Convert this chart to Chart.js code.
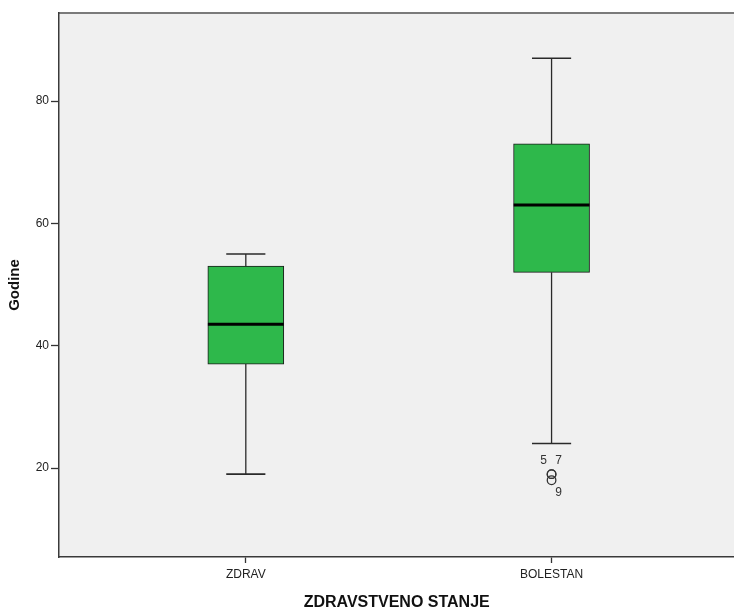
<!DOCTYPE html>
<html>
<head>
<meta charset="utf-8">
<script src="https://cdn.jsdelivr.net/npm/chart.js@4"></script>
<style>
html,body{margin:0;padding:0;background:#fff;overflow:hidden;}
#wrap{width:740px;height:612px;}
</style>
</head>
<body>
<div id="wrap"><canvas id="c" width="740" height="612"></canvas></div>
<script>
// ---- data ----
const categories = ['ZDRAV', 'BOLESTAN'];
const whiskerMin = [19, 24];
const q1 = [37, 52];
const median = [43.5, 63];
const q3 = [53, 73];
const whiskerMax = [55, 87];
const outlierValues = [[], [19, 19, 18]];
const outlierIds = [[], ['5', '7', '9']];
const yTicks = [20, 40, 60, 80];

// ---- styles ----
const boxHalf = 0.124;   // in category units
const capHalf = 0.064;
const green = '#2eb84b';
const lineCol = '#2a2a2a';

const datasets = [];
datasets.push({
  type: 'bar',
  data: categories.map((c, i) => ({x: i + 1, y: [q1[i], q3[i]]})),
  backgroundColor: green,
  borderColor: '#1a1a1a',
  borderWidth: 1,
  borderSkipped: false,
  barThickness: 76,
  grouped: false,
  order: 10
});
function seg(points, width, color) {
  datasets.push({
    type: 'scatter', showLine: true, data: points,
    borderColor: color, borderWidth: width, pointRadius: 0,
    pointHoverRadius: 0, fill: false, order: 1
  });
}
categories.forEach((c, i) => {
  const x = i + 1;
  seg([{x, y: q3[i]}, {x, y: whiskerMax[i]}], 1.3, lineCol);
  seg([{x, y: q1[i]}, {x, y: whiskerMin[i]}], 1.3, lineCol);
  seg([{x: x - capHalf, y: whiskerMax[i]}, {x: x + capHalf, y: whiskerMax[i]}], 1.6, lineCol);
  seg([{x: x - capHalf, y: whiskerMin[i]}, {x: x + capHalf, y: whiskerMin[i]}], 1.6, lineCol);
  seg([{x: x - boxHalf, y: median[i]}, {x: x + boxHalf, y: median[i]}], 3, '#000');
});
const outPts = [];
categories.forEach((c, i) => outlierValues[i].forEach(v => outPts.push({x: i + 1, y: v})));
datasets.push({
  type: 'scatter', data: outPts, pointStyle: 'circle', pointRadius: 4.3,
  pointBorderWidth: 1.3, pointBorderColor: '#333', pointBackgroundColor: 'rgba(0,0,0,0)',
  order: 0
});

const bgPlugin = {
  id: 'bg',
  beforeDraw(chart) {
    const {ctx, chartArea: a} = chart;
    ctx.save();
    ctx.fillStyle = '#f0f0f0';
    ctx.fillRect(a.left, a.top, a.right - a.left, a.bottom - a.top);
    ctx.strokeStyle = '#7a7a7a';
    ctx.lineWidth = 2;
    ctx.beginPath();
    ctx.moveTo(a.left, a.top);
    ctx.lineTo(a.right, a.top);
    ctx.stroke();
    ctx.restore();
  },
  afterDatasetsDraw(chart) {
    const {ctx} = chart;
    const xs = chart.scales.x, ys = chart.scales.y;
    ctx.save();
    ctx.font = '12px "Liberation Sans", Arial, sans-serif';
    ctx.fillStyle = '#333';
    ctx.textAlign = 'center';
    ctx.textBaseline = 'middle';
    categories.forEach((c, i) => {
      const vals = outlierValues[i], ids = outlierIds[i];
      if (!vals.length) return;
      const px = xs.getPixelForValue(i + 1);
      // ids 5 and 7 share the upper value, id 9 is the lower one
      const pyHi = ys.getPixelForValue(vals[0]);
      const pyLo = ys.getPixelForValue(vals[2]);
      ctx.fillText(ids[0], px - 8, pyHi - 13);
      ctx.fillText(ids[1], px + 7, pyHi - 13);
      ctx.fillText(ids[2], px + 7, pyLo + 12);
    });
    ctx.restore();
  }
};

const tickFont = {family: '"Liberation Sans", Arial, sans-serif', size: 12};
new Chart(document.getElementById('c'), {
  type: 'bar',
  data: {datasets},
  options: {
    responsive: false,
    animation: false,
    events: [],
    layout: {padding: {top: 13, right: 1, left: 0, bottom: 0}},
    plugins: {legend: {display: false}, tooltip: {enabled: false}},
    scales: {
      x: {
        type: 'linear', min: 0.389, max: 2.598, offset: false,
        afterBuildTicks: s => { s.ticks = categories.map((c, i) => ({value: i + 1})); },
        afterFit: s => { s.height = 55; },
        ticks: {callback: v => categories[v - 1], font: tickFont, color: '#222', padding: 4, maxRotation: 0, autoSkip: false},
        grid: {drawOnChartArea: false, offset: false, tickLength: 6, color: '#333', tickWidth: 1.3},
        border: {display: true, color: '#3a3a3a', width: 1.5},
        title: {display: true, text: 'ZDRAVSTVENO STANJE', color: '#111',
          font: {family: '"Liberation Sans", Arial, sans-serif', size: 16, weight: 'bold'},
          padding: {top: 0, bottom: 0}}
      },
      y: {
        type: 'linear', min: 5.45, max: 94.4,
        afterBuildTicks: s => { s.ticks = yTicks.map(v => ({value: v})); },
        afterFit: s => { s.width = 59; },
        ticks: {font: tickFont, color: '#222', padding: 2},
        grid: {drawOnChartArea: false, tickLength: 8, color: '#333', tickWidth: 1.3},
        border: {display: true, color: '#3a3a3a', width: 1.5},
        title: {display: true, text: 'Godine', color: '#111',
          font: {family: '"Liberation Sans", Arial, sans-serif', size: 15, weight: 'bold'},
          padding: {top: 6, bottom: 0}}
      }
    }
  },
  plugins: [bgPlugin]
});
</script>
</body>
</html>
